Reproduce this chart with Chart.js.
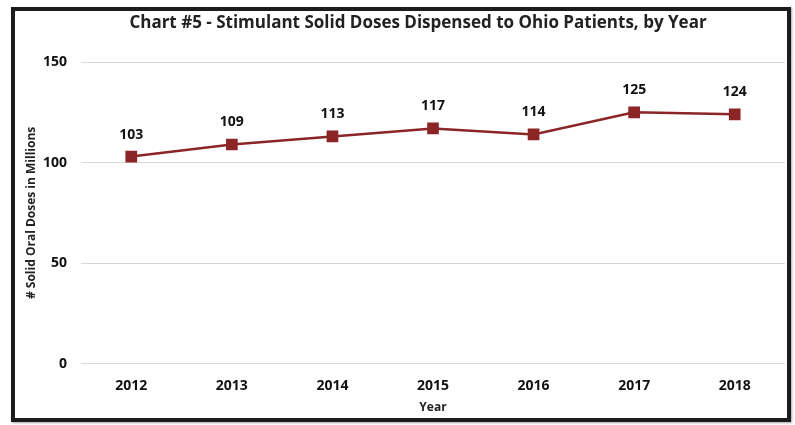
<!DOCTYPE html>
<html>
<head>
<meta charset="utf-8">
<script src="https://cdn.jsdelivr.net/npm/chart.js@4"></script>
<style>
  body { margin: 0; background: #fff; }
  #wrap { position: relative; width: 795px; height: 425px; }
  #frame {
    position: absolute; left: 11px; top: 7px; width: 780px; height: 415px;
    box-sizing: border-box; border: 4px solid #1c1c1c;
    box-shadow: 1px 1px 2px rgba(0,0,0,0.35);
    pointer-events: none;
  }
</style>
</head>
<body>
<div id="wrap">
  <canvas id="myChart" width="795" height="425"></canvas>
  <div id="frame"></div>
</div>
<script>
// chart data
const years = ['2012', '2013', '2014', '2015', '2016', '2017', '2018'];
const doses = [103, 109, 113, 117, 114, 125, 124];
const yTicks = [0, 50, 100, 150];
const chartTitle = 'Chart #5 - Stimulant Solid Doses Dispensed to Ohio Patients, by Year';

const lineColor = '#8b2526';
const fontFamily = '"Open Sans", "DejaVu Sans", sans-serif';

// draws the value above each point, and the title (off-centre like the original)
const valueLabels = {
    id: 'valueLabels',
    afterDatasetsDraw(chart) {
        const ctx = chart.ctx;
        const meta = chart.getDatasetMeta(0);
        ctx.save();
        ctx.font = 'bold 14px ' + fontFamily;
        ctx.fillStyle = '#111';
        ctx.textAlign = 'center';
        ctx.textBaseline = 'bottom';
        meta.data.forEach(function(pt, i) {
            ctx.fillText(doses[i], pt.x, pt.y - 15);
        });

        ctx.font = 'bold 17px ' + fontFamily;
        ctx.fillStyle = '#222';
        ctx.textBaseline = 'middle';
        ctx.fillText(chartTitle, 418, 23);
        ctx.restore();
    }
};

const ctx = document.getElementById('myChart').getContext('2d');
const chart = new Chart(ctx, {
    type: 'line',
    data: {
        labels: years,
        datasets: [{
            label: 'Doses',
            data: doses,
            borderColor: lineColor,
            backgroundColor: lineColor,
            borderWidth: 2.5,
            pointStyle: 'rect',
            pointRadius: 6.5,
            pointHoverRadius: 6.5,
            tension: 0
        }]
    },
    options: {
        responsive: false,
        animation: false,
        layout: { padding: { left: 24, right: 10, top: 62, bottom: 10 } },
        plugins: {
            legend: { display: false },
            tooltip: { enabled: false },
            title: { display: false }
        },
        scales: {
            x: {
                offset: true,
                grid: { display: false },
                border: { display: false },
                ticks: {
                    color: '#111',
                    padding: 6,
                    font: { family: fontFamily, size: 14, weight: 'bold' }
                },
                title: {
                    display: true,
                    text: 'Year',
                    color: '#222',
                    padding: { top: 0, bottom: 0 },
                    font: { family: fontFamily, size: 12, weight: 'bold' }
                }
            },
            y: {
                min: 0,
                max: 150,
                afterBuildTicks: function(axis) {
                    axis.ticks = yTicks.map(v => ({ value: v }));
                },
                afterFit: function(axis) {
                    axis.width = 57;
                },
                grid: { color: '#d9d9d9', lineWidth: 1, drawTicks: false },
                border: { display: false },
                ticks: {
                    color: '#111',
                    padding: 14,
                    font: { family: fontFamily, size: 14, weight: 'bold' }
                },
                title: {
                    display: true,
                    text: '# Solid Oral Doses in Millions',
                    color: '#222',
                    padding: { top: 0, bottom: 0 },
                    font: { family: fontFamily, size: 12, weight: 'bold' }
                }
            }
        }
    },
    plugins: [valueLabels]
});
</script>
</body>
</html>
